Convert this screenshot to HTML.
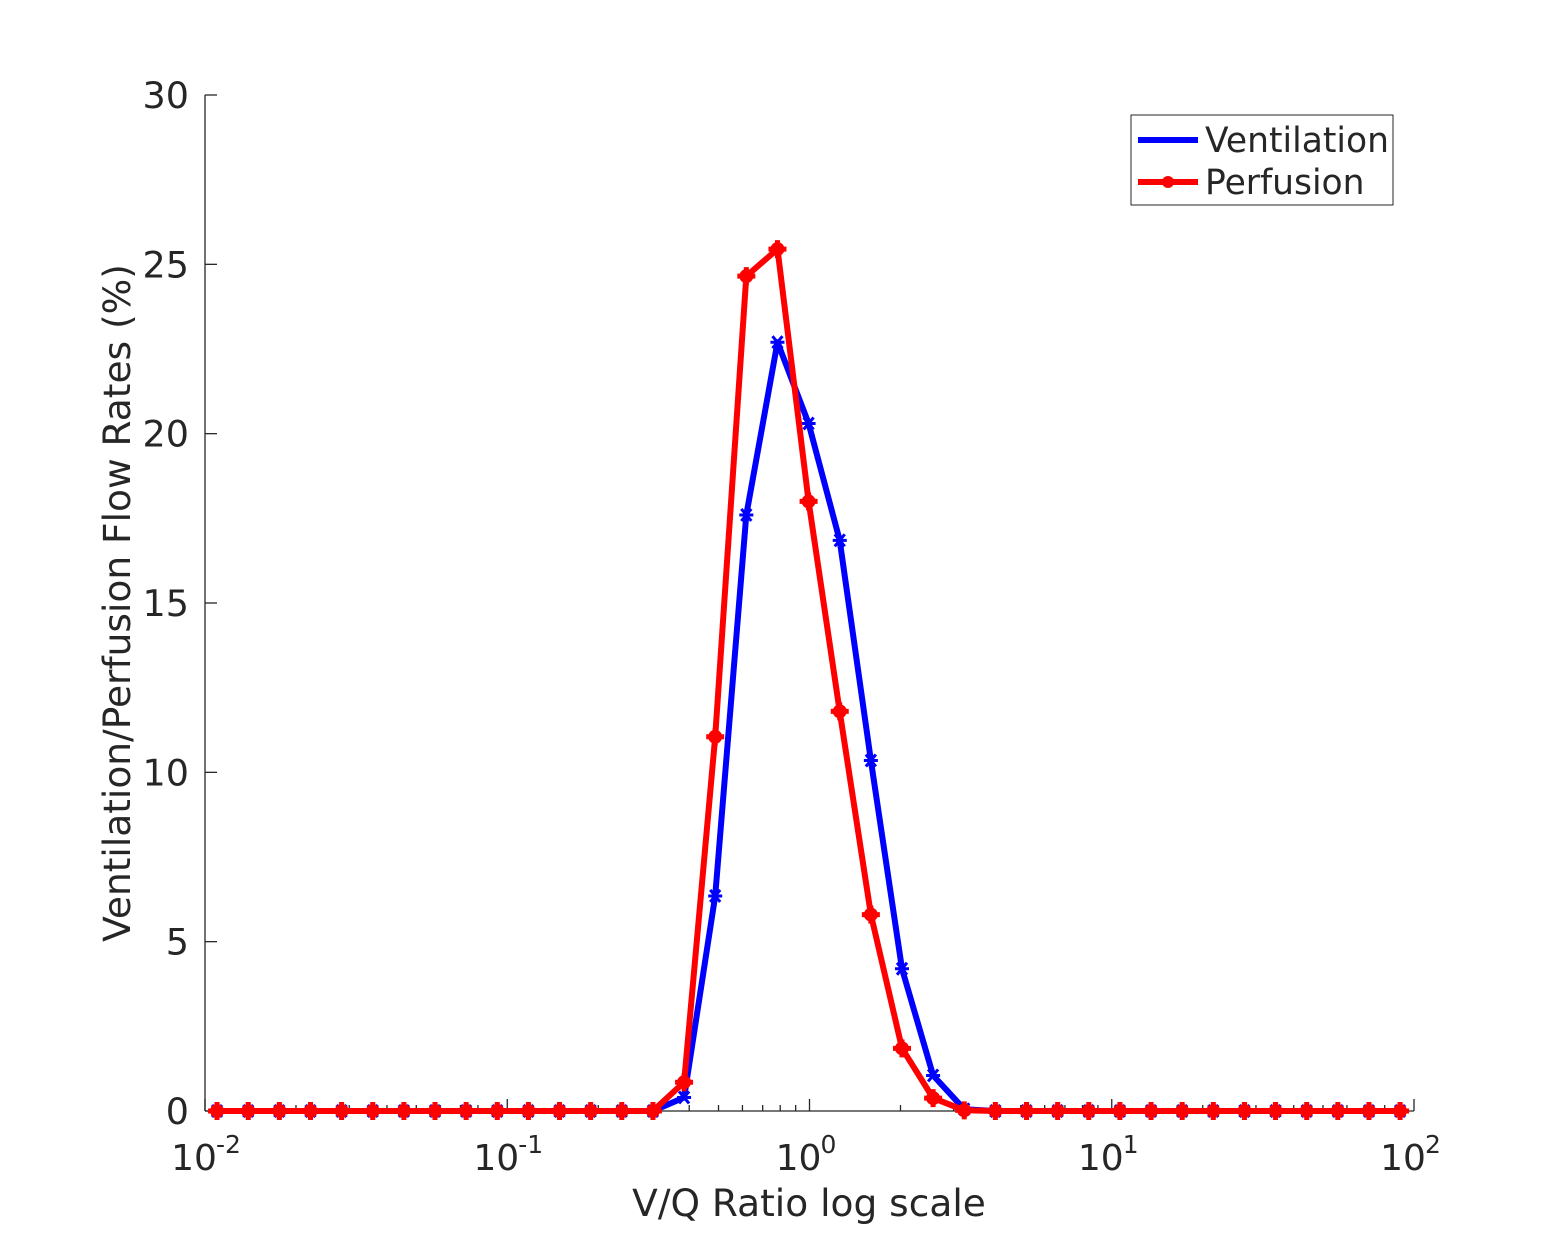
<!DOCTYPE html>
<html><head><meta charset="utf-8"><style>
body{margin:0;background:#fff;}
svg text{font-family:"DejaVu Sans","Liberation Sans",sans-serif;fill:#262626;}
</style></head><body>
<svg id="chart" width="1563" height="1250" viewBox="0 0 1563 1250" xmlns="http://www.w3.org/2000/svg">
<rect width="1563" height="1250" fill="#fff"/>
<g id="axes"></g>
<g id="series"></g>
<text x="809" y="1216" font-size="37.5" text-anchor="middle">V/Q Ratio log scale</text>
<text transform="translate(130,603) rotate(-90)" font-size="37.5" text-anchor="middle">Ventilation/Perfusion Flow Rates (%)</text>
<g>
<rect x="1131" y="115" width="262" height="90" fill="#fff" stroke="#262626" stroke-width="1"/>
<g>
<line x1="1138" y1="140" x2="1198" y2="140" stroke="#0000ff" stroke-width="6"/>
<text x="1205" y="152" font-size="34.5">Ventilation</text>
</g>
<g>
<line x1="1138" y1="182" x2="1198" y2="182" stroke="#ff0000" stroke-width="6"/>
<circle cx="1168" cy="182" r="6" fill="#ff0000"/>
<text x="1205" y="194" font-size="34.5">Perfusion</text>
</g>
</g>
</svg>
<script>
const vqRatio=[0.01096,0.01390,0.01762,0.02234,0.02831,0.03589,0.04550,0.05768,0.07311,0.09268,0.1175,0.1489,0.1888,0.2393,0.3034,0.3846,0.4875,0.6180,0.7834,0.9931,1.259,1.596,2.023,2.564,3.251,4.121,5.224,6.622,8.395,10.64,13.49,17.10,21.68,27.48,34.83,44.16,55.98,70.96,89.95];
const ventilation=[0,0,0,0,0,0,0,0,0,0,0,0,0,0,0,0.4,6.35,17.6,22.7,20.3,16.85,10.35,4.2,1.05,0.05,0,0,0,0,0,0,0,0,0,0,0,0,0,0];
const perfusion=[0,0,0,0,0,0,0,0,0,0,0,0,0,0,0,0.85,11.05,24.65,25.45,18.0,11.8,5.8,1.85,0.38,0.02,0,0,0,0,0,0,0,0,0,0,0,0,0,0];
const yTicks=[0,5,10,15,20,25,30];
const xTickExps=[-2,-1,0,1,2];
const NS='http://www.w3.org/2000/svg';
const X0=205,X1=1414,Y0=1111,Y1=95;
function xs(v){return X0+(Math.log10(v)+2)/4*(X1-X0);}
function ys(v){return Y0-v/30*(Y0-Y1);}
function mk(tag,attrs,parent){const e=document.createElementNS(NS,tag);for(const k in attrs)e.setAttribute(k,attrs[k]);parent.appendChild(e);return e;}
const ax=document.getElementById('axes');
const st={stroke:'#262626','stroke-width':1.3,fill:'none'};
let l=mk('line',Object.assign({x1:X0,y1:Y0,x2:X1,y2:Y0},st),ax);


l=mk('line',Object.assign({x1:X0,y1:Y0,x2:X0,y2:Y1},st),ax);


yTicks.forEach(t=>{
  const y=ys(t);
  mk('line',Object.assign({x1:X0,y1:y,x2:X0+12,y2:y},st),ax);
  const tx=mk('text',{x:X0-16,y:y+13,'font-size':36.5,'text-anchor':'end'},ax);
  tx.textContent=t;
  
  
});
xTickExps.forEach((e,i)=>{
  const x=xs(Math.pow(10,e));
  mk('line',Object.assign({x1:x,y1:Y0,x2:x,y2:Y0-12},st),ax);
  if(i<xTickExps.length-1){for(let m=2;m<=9;m++){const xm=xs(m*Math.pow(10,e));mk('line',Object.assign({x1:xm,y1:Y0,x2:xm,y2:Y0-6},st),ax);}}
  const tx=mk('text',{x:x-11,y:1170,'font-size':36,'text-anchor':'middle'},ax);
  tx.textContent='10';
  
  
  const sp=mk('text',{x:x+11,y:1153,'font-size':25,'text-anchor':'start'},ax);
  sp.textContent=String(e);
  
  
});
const sg=document.getElementById('series');
function drawSeries(vals,color,name,marker){
  const pts=vals.map((v,i)=>xs(vqRatio[i]).toFixed(1)+','+ys(v).toFixed(1)).join(' ');
  const pl=mk('polyline',{points:pts,fill:'none',stroke:color,'stroke-width':6,'stroke-linejoin':'round'},sg);
  
  
  vals.forEach((v,i)=>{
    const x=xs(vqRatio[i]),y=ys(v);
    let m;
    if(marker==='circle'){
      m=mk('g',{},sg);
      mk('circle',{cx:x,cy:y,r:7,fill:color},m);
      mk('path',{d:`M${x-9},${y}H${x+9}M${x},${y-9}V${y+9}`,stroke:color,'stroke-width':5},m);
    }else{
      m=mk('path',{d:`M${x-7},${y}H${x+7}M${x-5},${y-6}L${x+5},${y+6}M${x+5},${y-6}L${x-5},${y+6}`,stroke:color,'stroke-width':3},sg);
    }
    
    
  });
}
drawSeries(ventilation,'#0000ff','ventilation','star');
drawSeries(perfusion,'#ff0000','perfusion','circle');
</script>
</body></html>
